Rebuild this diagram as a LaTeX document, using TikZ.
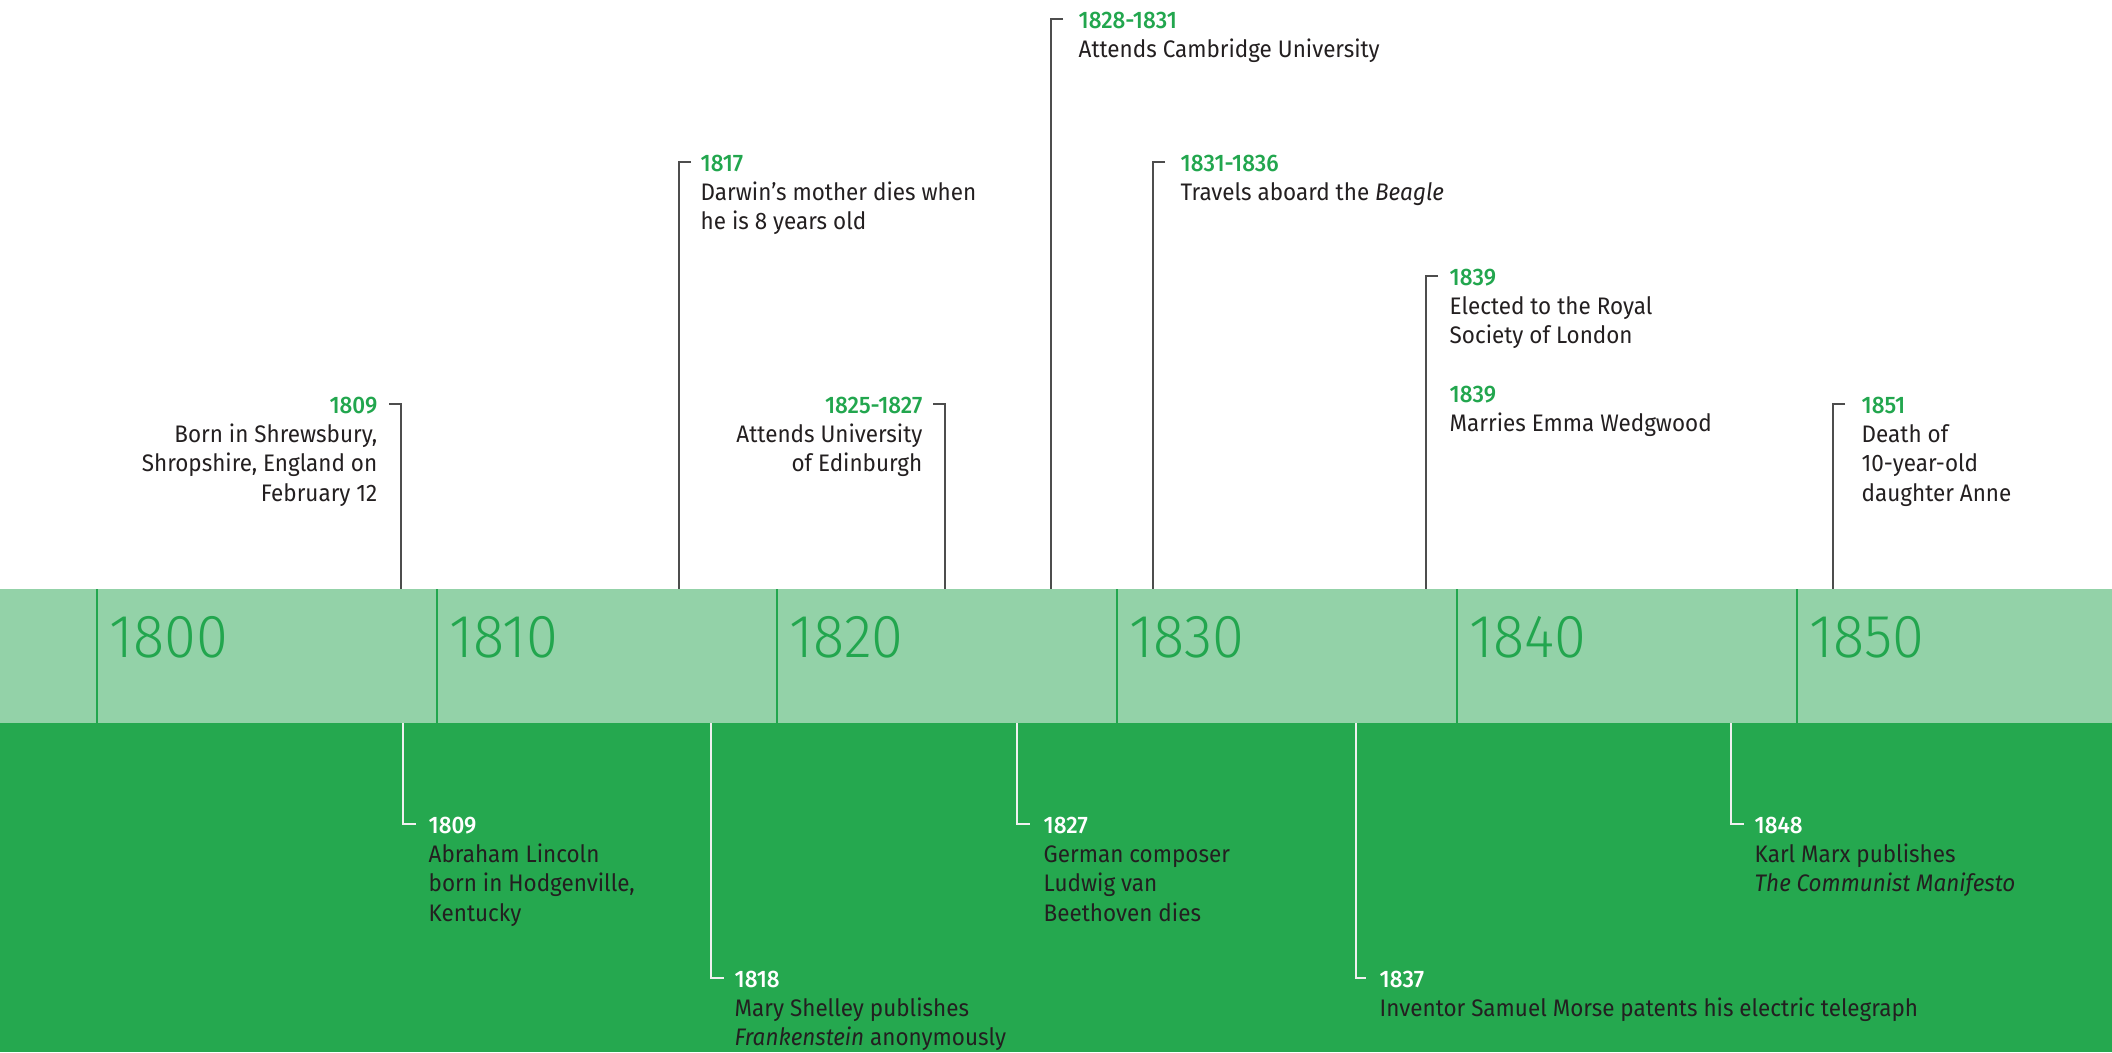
\documentclass[tikz,border=0pt]{standalone}
\usepackage{fontspec}
\IfFontExistsTF{Fira Sans Medium}
  {\setmainfont{Fira Sans}[BoldFont={Fira Sans Medium}, FakeStretch=0.94]}
  {\setmainfont{Fira Sans}[FakeStretch=0.94]}
\IfFontExistsTF{Fira Sans Light}
  {\newfontfamily\decadefont{Fira Sans Light}[FakeStretch=0.95]}
  {\newfontfamily\decadefont{Fira Sans}[FakeStretch=0.95]}
\definecolor{bandlight}{RGB}{147,210,168}
\definecolor{banddark}{RGB}{37,168,79}
\definecolor{yrgreen}{RGB}{34,166,78}
\definecolor{stemgray}{RGB}{77,77,77}
\definecolor{txtdark}{RGB}{35,31,32}
\newcommand{\topyr}[1]{{\color{yrgreen}\bfseries #1}}
\newcommand{\botyr}[1]{{\color{white}\bfseries #1}}
\begin{document}
\begin{tikzpicture}[x=0.1mm,y=-0.1mm,
    evt/.style={inner sep=0pt,text=txtdark,font=\fontsize{6.8}{8.35}\selectfont},
    stem/.style={stemgray,line width=0.45pt},
    wstem/.style={white!94!black,line width=0.45pt},
    decade/.style={inner sep=0pt,anchor=west,text=yrgreen,font=\decadefont\fontsize{17.3}{20}\selectfont}]
  \useasboundingbox (0,0) rectangle (2112,1052);
  % band
  \fill[bandlight] (0,589) rectangle (2112,723);
  \fill[banddark] (0,723) rectangle (2112,1052);
  \foreach \d [count=\i from 0] in {1800,1810,1820,1830,1840,1850} {
    \draw[yrgreen,line width=0.6pt] (97+340*\i,589) -- (97+340*\i,723);
    \node[decade] (dec\d) at (109+340*\i,637) {\d};
  }
  % events above the band
  \coordinate (a1809) at (401,589);
  \coordinate (k1809) at (389,404);
  \node[evt,anchor=north east,align=right] (t1809) at (378,396)
    {\topyr{1809}\\Born in Shrewsbury,\\Shropshire, England on\\February 12};
  \draw[stem] (k1809) -| (a1809);
  \coordinate (a1817) at (679,589);
  \coordinate (k1817) at (691,162);
  \node[evt,anchor=north west,align=left] (t1817) at (700,154)
    {\topyr{1817}\\Darwin’s mother dies when\\he is 8 years old};
  \draw[stem] (k1817) -| (a1817);
  \coordinate (a1825) at (945,589);
  \coordinate (k1825) at (933,404);
  \node[evt,anchor=north east,align=right] (t1825) at (923,396)
    {\topyr{1825-1827}\\Attends University\\of Edinburgh};
  \draw[stem] (k1825) -| (a1825);
  \coordinate (a1828) at (1051,589);
  \coordinate (k1828) at (1063,19);
  \node[evt,anchor=north west,align=left] (t1828) at (1078,11)
    {\topyr{1828-1831}\\Attends Cambridge University};
  \draw[stem] (k1828) -| (a1828);
  \coordinate (a1831) at (1153,589);
  \coordinate (k1831) at (1165,162);
  \node[evt,anchor=north west,align=left] (t1831) at (1180,154)
    {\topyr{1831-1836}\\Travels aboard the \textit{Beagle}};
  \draw[stem] (k1831) -| (a1831);
  \coordinate (a1839) at (1426,589);
  \coordinate (k1839) at (1438,276);
  \node[evt,anchor=north west,align=left] (t1839) at (1449,268)
    {\topyr{1839}\\Elected to the Royal\\Society of London\\[8.35pt]\topyr{1839}\\Marries Emma Wedgwood};
  \draw[stem] (k1839) -| (a1839);
  \coordinate (a1851) at (1833,589);
  \coordinate (k1851) at (1845,404);
  \node[evt,anchor=north west,align=left] (t1851) at (1861,396)
    {\topyr{1851}\\Death of\\10-year-old\\daughter Anne};
  \draw[stem] (k1851) -| (a1851);
  % events below the band
  \coordinate (b1809) at (403,723);
  \coordinate (l1809) at (416,824);
  \node[evt,anchor=north west,align=left] (u1809) at (428,816)
    {\botyr{1809}\\Abraham Lincoln\\born in Hodgenville,\\Kentucky};
  \draw[wstem] (b1809) |- (l1809);
  \coordinate (b1818) at (711,723);
  \coordinate (l1818) at (724,978);
  \node[evt,anchor=north west,align=left] (u1818) at (734,970)
    {\botyr{1818}\\Mary Shelley publishes\\\textit{Frankenstein} anonymously};
  \draw[wstem] (b1818) |- (l1818);
  \coordinate (b1827) at (1017,723);
  \coordinate (l1827) at (1030,824);
  \node[evt,anchor=north west,align=left] (u1827) at (1043,816)
    {\botyr{1827}\\German composer\\Ludwig van\\Beethoven dies};
  \draw[wstem] (b1827) |- (l1827);
  \coordinate (b1837) at (1356,723);
  \coordinate (l1837) at (1366,978);
  \node[evt,anchor=north west,align=left] (u1837) at (1379,970)
    {\botyr{1837}\\Inventor Samuel Morse patents his electric telegraph};
  \draw[wstem] (b1837) |- (l1837);
  \coordinate (b1848) at (1731,723);
  \coordinate (l1848) at (1744,824);
  \node[evt,anchor=north west,align=left] (u1848) at (1754,816)
    {\botyr{1848}\\Karl Marx publishes\\\textit{The Communist Manifesto}};
  \draw[wstem] (b1848) |- (l1848);
\end{tikzpicture}
\end{document}
